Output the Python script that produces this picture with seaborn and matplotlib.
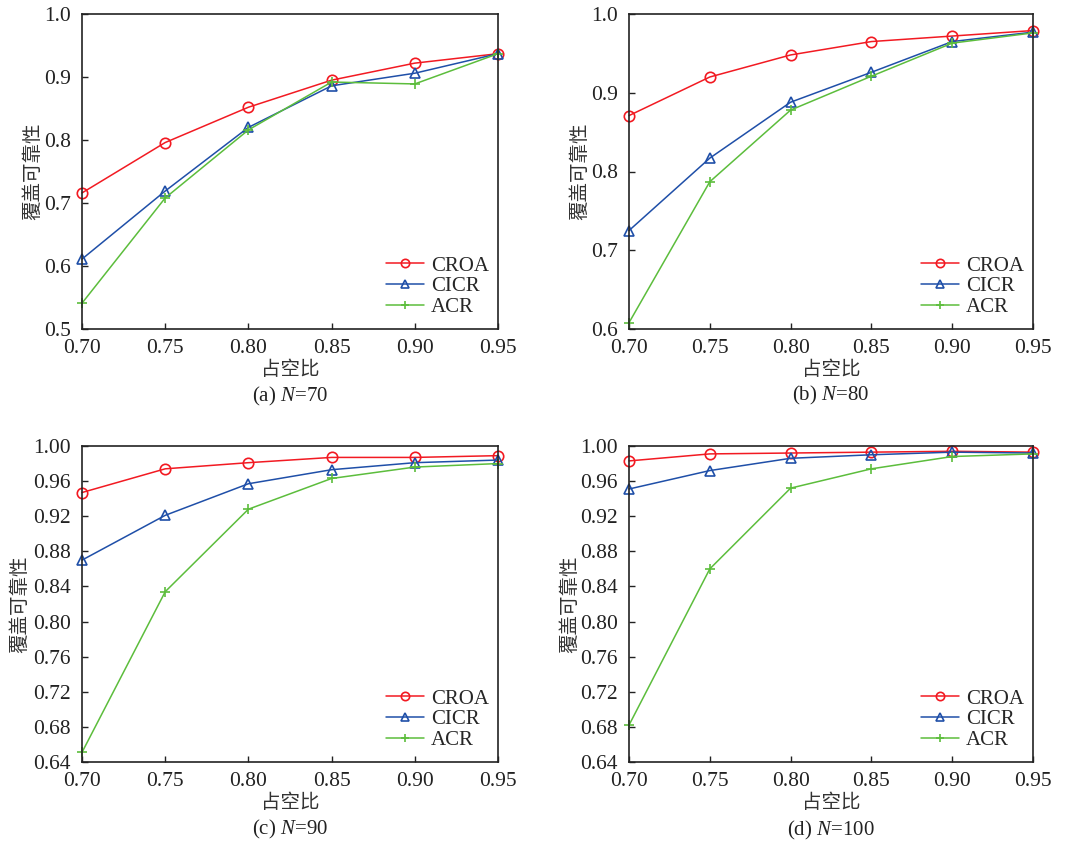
import matplotlib
matplotlib.use("Agg")
import matplotlib.pyplot as plt
import seaborn as sns
import pandas as pd
from matplotlib.ticker import FormatStrFormatter

sns.set_theme(style="ticks")
plt.rcParams['font.family'] = ['Liberation Serif', 'Noto Sans CJK SC']
plt.rcParams['mathtext.fontset'] = 'custom'
plt.rcParams['mathtext.rm'] = 'Liberation Serif'
plt.rcParams['mathtext.it'] = 'Liberation Serif:italic'

duty = [0.70, 0.75, 0.80, 0.85, 0.90, 0.95]
algos = ["CROA", "CICR", "ACR"]

croa_70 = [0.716, 0.796, 0.852, 0.895, 0.922, 0.937]
cicr_70 = [0.611, 0.719, 0.820, 0.886, 0.906, 0.937]
acr_70 = [0.541, 0.708, 0.816, 0.892, 0.889, 0.937]

croa_80 = [0.871, 0.920, 0.948, 0.965, 0.972, 0.979]
cicr_80 = [0.725, 0.817, 0.888, 0.926, 0.965, 0.977]
acr_80 = [0.608, 0.787, 0.878, 0.921, 0.963, 0.976]

croa_90 = [0.947, 0.974, 0.981, 0.987, 0.987, 0.989]
cicr_90 = [0.870, 0.921, 0.957, 0.973, 0.981, 0.984]
acr_90 = [0.651, 0.834, 0.928, 0.963, 0.976, 0.980]

croa_100 = [0.983, 0.991, 0.992, 0.993, 0.994, 0.993]
cicr_100 = [0.951, 0.972, 0.986, 0.990, 0.993, 0.992]
acr_100 = [0.682, 0.860, 0.952, 0.974, 0.988, 0.991]

panels = [
    ("(a) ", "70", [croa_70, cicr_70, acr_70], (0.5, 1.0), [0.5, 0.6, 0.7, 0.8, 0.9, 1.0], "%.1f"),
    ("(b) ", "80", [croa_80, cicr_80, acr_80], (0.6, 1.0), [0.6, 0.7, 0.8, 0.9, 1.0], "%.1f"),
    ("(c) ", "90", [croa_90, cicr_90, acr_90], (0.64, 1.0), [0.64, 0.68, 0.72, 0.76, 0.80, 0.84, 0.88, 0.92, 0.96, 1.00], "%.2f"),
    ("(d) ", "100", [croa_100, cicr_100, acr_100], (0.64, 1.0), [0.64, 0.68, 0.72, 0.76, 0.80, 0.84, 0.88, 0.92, 0.96, 1.00], "%.2f"),
]

colors = ["#f21a22", "#1f4fa8", "#5cbd3c"]
markers = ["o", "^", "+"]

W, H = 1067, 843
fig = plt.figure(figsize=(W / 100, H / 100), dpi=100)
rects = [(82, 14, 498, 329), (629, 14, 1033, 329), (82, 446, 498, 762), (629, 446, 1033, 762)]
ylab_x = [33, 580, 20, 570]
cap_y = [396, 395, 829, 830]

for i, (pre, n, series, ylim, yticks, fmt) in enumerate(panels):
    x0, y0, x1, y1 = rects[i]
    aw, ah = x1 - x0, y1 - y0
    ax = fig.add_axes([x0 / W, 1 - y1 / H, aw / W, ah / H])
    for name, vals, c, m in zip(algos, series, colors, markers):
        df = pd.DataFrame({"duty": duty, "rel": vals})
        sns.lineplot(data=df, x="duty", y="rel", ax=ax, color=c, marker=m,
                     markersize=7.5, mfc="none", mec=c, mew=1.2,
                     linewidth=1.1, label=name, clip_on=False)
    ax.set_xlim(0.70, 0.95)
    ax.set_ylim(*ylim)
    ax.set_xticks(duty)
    ax.set_yticks(yticks)
    ax.xaxis.set_major_formatter(FormatStrFormatter("%.2f"))
    ax.yaxis.set_major_formatter(FormatStrFormatter(fmt))
    ax.tick_params(direction="in", labelsize=15.5, length=4, width=1,
                   colors="#222222")
    ax.tick_params(axis="x", pad=7)
    ax.tick_params(axis="y", pad=8)
    for s in ax.spines.values():
        s.set_linewidth(1.2)
        s.set_color("#222222")
    ax.set_xlabel("")
    ax.set_ylabel("")
    cx = (x0 + x1) / 2
    fig.text(cx / W, 1 - 370 / H if i < 2 else 1 - 802 / H, "占空比", fontsize=14,
             family=['Noto Sans CJK SC'], ha="center", va="center", color="#333333")
    fig.text(ylab_x[i] / W, 1 - ((y0 + y1) / 2) / H, "覆盖可靠性", rotation=90,
             fontsize=14, family=['Noto Sans CJK SC'], ha="center", va="center", color="#333333")
    fig.text(cx / W, 1 - cap_y[i] / H, pre + "$\\it{N}$=" + n,
             ha="center", va="center", fontsize=15, color="#222222")
    leg = ax.legend(loc="lower right", frameon=False, fontsize=15, handlelength=1.8,
                    borderpad=0, borderaxespad=0, labelspacing=0.05, handletextpad=0.35,
                    markerscale=0.8,
                    bbox_to_anchor=(1 - 9 / aw, 12 / ah))

fig.savefig("out.png", dpi=100)
